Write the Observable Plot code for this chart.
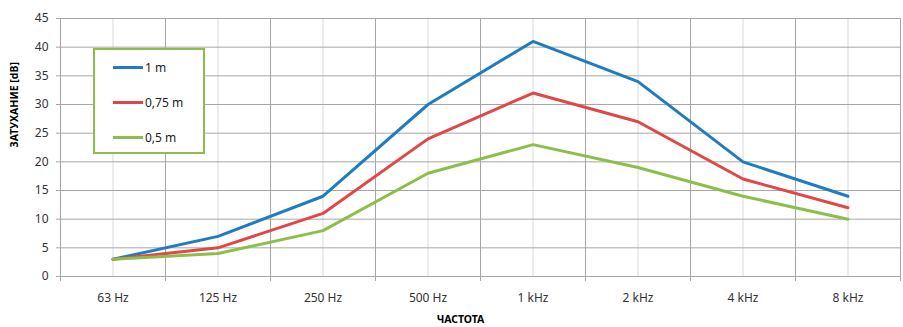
<!DOCTYPE html>
<html><head><meta charset="utf-8">
<script src="https://cdn.jsdelivr.net/npm/d3@7"></script>
<script src="https://cdn.jsdelivr.net/npm/@observablehq/plot@0.6"></script>
<style>
body{margin:0;background:#fff;font-family:"Noto Sans",sans-serif;}
#wrap{position:relative;width:903px;height:327px;}
#legend{position:absolute;left:93px;top:48px;width:108px;height:102px;border:2px solid #8cbf4a;background:#fff;}
.item{position:absolute;left:18px;font-size:12px;color:#222;display:flex;align-items:center;}
.item span.sw{display:inline-block;width:30px;height:3px;margin-right:2px;}
</style></head><body>
<div id="wrap"><div id="legend"></div></div>
<script>
const categories = ["63 Hz","125 Hz","250 Hz","500 Hz","1 kHz","2 kHz","4 kHz","8 kHz"];
const seriesNames = ["1 m","0,75 m","0,5 m"];
const s1 = [3, 7, 14, 30, 41, 34, 20, 14];
const s075 = [3, 5, 11, 24, 32, 27, 17, 12];
const s05 = [3, 4, 8, 18, 23, 19, 14, 10];
const colors = ["#1f7cc1","#e04848","#8cbf4a"];
const yTicks = [0,5,10,15,20,25,30,35,40,45];

const allSeries = [s1, s075, s05];
const data = [];
allSeries.forEach((vals, si) => vals.forEach((v, i) => data.push({i, v, s: seriesNames[si]})));
const idx = categories.map((c, i) => i);
const bounds = [...idx.map(i => i - 0.5), categories.length - 0.5];

const chart = Plot.plot({
  width: 903, height: 327,
  marginLeft: 60, marginRight: 3, marginTop: 18, marginBottom: 51,
  style: {fontFamily: "'Noto Sans', sans-serif", fontSize: "12px", color: "#333"},
  x: {type: "linear", domain: [-0.5, categories.length - 0.5]},
  y: {domain: [0, 45]},
  color: {domain: seriesNames, range: colors},
  marks: [
    Plot.ruleX(idx, {x: d => d, stroke: "#d9d9d9", strokeWidth: 1}),
    Plot.ruleX(bounds, {x: d => d, stroke: "#a6a6a6", strokeWidth: 1}),
    Plot.ruleY(yTicks, {y: d => d, stroke: "#a6a6a6", strokeWidth: 1}),
    Plot.axisY({ticks: yTicks, tickSize: 4, tickPadding: 8, stroke: "#a6a6a6", label: null, fontSize: 12}),
    Plot.axisX({ticks: bounds, tickSize: 5, tickFormat: () => "", stroke: "#a6a6a6", label: null}),
    Plot.axisX({ticks: idx, tickSize: 0, tickPadding: 17, tickFormat: i => categories[i], label: null, fontSize: 12}),
    Plot.line(data, {x: "i", y: "v", z: "s", stroke: "s", strokeWidth: 3, strokeLinejoin: "miter"}),
    Plot.text(["ЗАТУХАНИЕ [dB]"], {frameAnchor: "left", dx: -46, rotate: -90, fontWeight: "bold", fontSize: 10.5, fill: "#000"}),
    Plot.text(["ЧАСТОТА"], {frameAnchor: "bottom", dy: 46, dx: -20, fontWeight: "bold", fontSize: 10.5, fill: "#000"})
  ]
});
const wrap = document.getElementById("wrap");
wrap.insertBefore(chart, wrap.firstChild);
const legend = document.getElementById("legend");
seriesNames.forEach((n, k) => {
  const d = document.createElement("div");
  d.className = "item";
  d.style.top = (9 + k * 35) + "px";
  d.innerHTML = `<span class="sw" style="background:${colors[k]}"></span>${n}`;
  legend.appendChild(d);
});
</script></body></html>
